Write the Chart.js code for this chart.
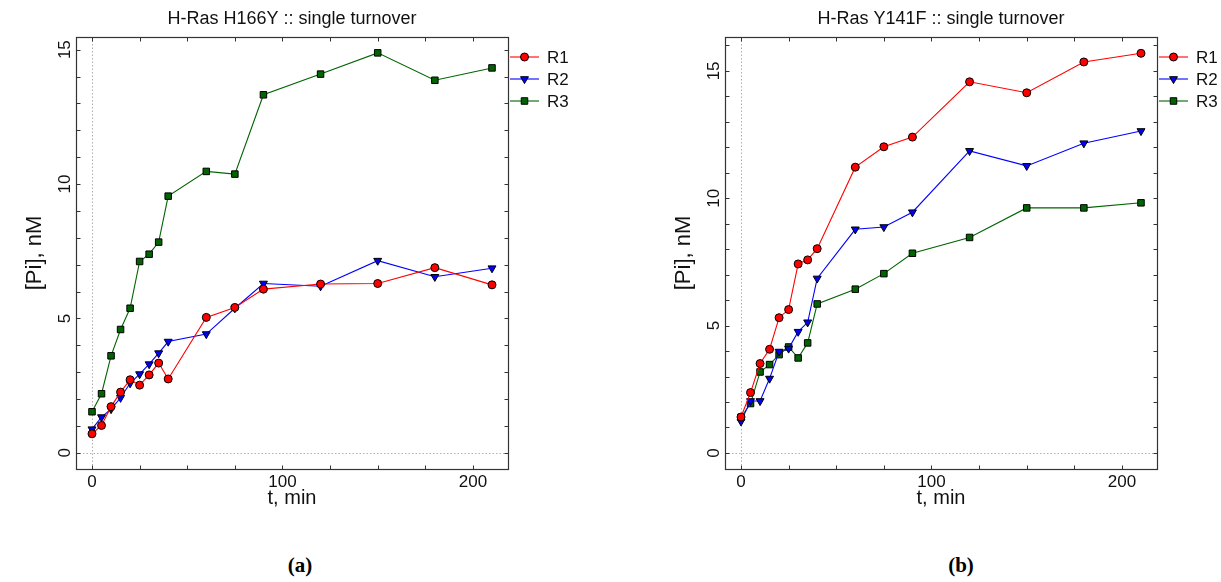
<!DOCTYPE html>
<html><head><meta charset="utf-8">
<script src="https://cdn.jsdelivr.net/npm/chart.js"></script>
<style>
html,body{margin:0;padding:0;background:#fff}
body{width:1221px;height:582px;overflow:hidden;position:relative}
canvas{position:absolute;top:0}
#c1{left:0}
#c2{left:610px}
.cap{position:absolute;top:553px;font:bold 21px "Liberation Serif","Times New Roman",serif;color:#000;transform:translateX(-50%);white-space:nowrap}
</style></head><body>
<canvas id="c1" width="610" height="540"></canvas>
<canvas id="c2" width="611" height="540"></canvas>
<div class="cap" style="left:300px">(a)</div>
<div class="cap" style="left:961px">(b)</div>
<script>
// ---- data ----
const times = [0,5,10,15,20,25,30,35,40,60,75,90,120,150,180,210];
const seriesNames = ['R1','R2','R3'];
const h166y_R1 = [0.71,1.02,1.72,2.26,2.72,2.52,2.90,3.34,2.75,5.04,5.41,6.09,6.28,6.30,6.89,6.25];
const h166y_R2 = [0.88,1.33,1.63,2.05,2.59,2.93,3.30,3.71,4.14,4.42,5.38,6.30,6.20,7.15,6.55,6.87];
const h166y_R3 = [1.53,2.20,3.61,4.59,5.38,7.12,7.39,7.84,9.55,10.47,10.37,13.32,14.09,14.88,13.86,14.32];
const y141f_R1 = [1.41,2.37,3.51,4.07,5.31,5.63,7.42,7.58,8.02,11.22,12.02,12.40,14.57,14.14,15.35,15.69];
const y141f_R2 = [1.24,2.04,2.04,2.92,3.98,4.10,4.76,5.13,6.85,8.78,8.87,9.45,11.86,11.27,12.16,12.64];
const y141f_R3 = [1.40,1.94,3.18,3.47,3.86,4.16,3.73,4.32,5.85,6.43,7.04,7.84,8.46,9.62,9.62,9.82];
const xTickLabels = [0,100,200];
const yTickLabels = [0,5,10,15];
const titleLeft = 'H-Ras H166Y :: single turnover';
const titleRight = 'H-Ras Y141F :: single turnover';
const xTitle = 't, min';
const yTitle = '[Pi], nM';

// ---- styles ----
const seriesStyle = [
  {line:'#ff0000', fill:'#ff0000', point:'circle', radius:4, rotation:0},
  {line:'#0000ff', fill:'#0000ff', point:'triangle', radius:4.6, rotation:180},
  {line:'#006400', fill:'#006400', point:'rect', radius:4.6, rotation:0}
];
const FONT = '"Liberation Sans", Arial, Helvetica, sans-serif';
const AXIS = '#333333';

function buildDatasets(valuesList){
  return valuesList.map((vals,i)=>({
    label: seriesNames[i],
    data: times.map((t,k)=>({x:t, y:vals[k]})),
    borderColor: seriesStyle[i].line,
    borderWidth: 1.1,
    backgroundColor: seriesStyle[i].fill,
    pointBackgroundColor: seriesStyle[i].fill,
    pointBorderColor: '#000',
    pointBorderWidth: 1,
    pointStyle: seriesStyle[i].point,
    pointRadius: seriesStyle[i].radius,
    pointRotation: seriesStyle[i].rotation,
    pointHoverRadius: seriesStyle[i].radius,
    tension: 0,
    fill: false
  }));
}

const decor = {
  id: 'decor',
  beforeDatasetsDraw(chart){
    const {ctx, chartArea:a, scales:{x, y}} = chart;
    ctx.save();
    ctx.strokeStyle = '#b0b0b0';
    ctx.lineWidth = 1;
    ctx.setLineDash([1.5,2]);
    const x0 = Math.round(x.getPixelForValue(0)) + 0.5;
    const y0 = Math.round(y.getPixelForValue(0)) + 0.5;
    ctx.beginPath();
    ctx.moveTo(x0, a.top); ctx.lineTo(x0, a.bottom);
    ctx.moveTo(a.left, y0); ctx.lineTo(a.right, y0);
    ctx.stroke();
    ctx.restore();
  },
  afterDraw(chart, args, opts){
    const {ctx, chartArea:a, scales:{x, y}} = chart;
    ctx.save();
    // box
    ctx.strokeStyle = AXIS;
    ctx.lineWidth = 1.2;
    const L = Math.round(a.left)+0.5, R = Math.round(a.right)+0.5, T = Math.round(a.top)+0.5, B = Math.round(a.bottom)+0.5;
    ctx.strokeRect(L, T, R-L, B-T);
    // inward ticks
    ctx.lineWidth = 1;
    const tl = 4;
    ctx.beginPath();
    x.ticks.forEach(t=>{
      const px = Math.round(x.getPixelForValue(t.value))+0.5;
      ctx.moveTo(px, B); ctx.lineTo(px, B-tl);
      ctx.moveTo(px, T); ctx.lineTo(px, T+tl);
    });
    y.ticks.forEach(t=>{
      if (Math.abs(t.value - Math.round(t.value))>1e-6) return;
      const py = Math.round(y.getPixelForValue(t.value))+0.5;
      ctx.moveTo(L, py); ctx.lineTo(L+tl, py);
      ctx.moveTo(R, py); ctx.lineTo(R-tl, py);
    });
    ctx.stroke();
    // title
    ctx.fillStyle = '#111';
    ctx.font = '18px ' + FONT;
    ctx.textAlign = 'center';
    ctx.textBaseline = 'middle';
    ctx.fillText(opts.title, (a.left+a.right)/2, 19);
    // legend
    ctx.font = '17px ' + FONT;
    ctx.textAlign = 'left';
    chart.data.datasets.forEach((ds,i)=>{
      const ly = a.top + 20 + i*22;
      const lx = a.right + 2;
      ctx.strokeStyle = ds.borderColor;
      ctx.lineWidth = 1.1;
      ctx.beginPath(); ctx.moveTo(lx, ly); ctx.lineTo(lx+29, ly); ctx.stroke();
      ctx.fillStyle = ds.pointBackgroundColor;
      ctx.strokeStyle = '#000';
      ctx.lineWidth = 1;
      Chart.helpers.drawPoint(ctx, {pointStyle: ds.pointStyle, rotation: ds.pointRotation, radius: ds.pointRadius, borderWidth: 1}, lx+14.5, ly);
      ctx.fillStyle = '#111';
      ctx.fillText(ds.label, lx+37, ly+1);
    });
    ctx.restore();
  }
};

function makeChart(id, title, valuesList, yMin, yMax, padLeft, padRight){
  return new Chart(document.getElementById(id), {
    type: 'line',
    data: { datasets: buildDatasets(valuesList) },
    options: {
      responsive: false,
      animation: false,
      devicePixelRatio: 1,
      layout: { padding: {left: padLeft, right: padRight, top: 37, bottom: 0} },
      plugins: { legend: {display:false}, tooltip: {enabled:false}, decor: {title: title} },
      scales: {
        x: {
          type: 'linear', min: -8.4, max: 218.4,
          grid: {display:false}, border: {display:false},
          ticks: {
            stepSize: 25, includeBounds: false, autoSkip: false, maxRotation: 0, minRotation: 0,
            padding: -5, color: '#111', font: {family: FONT, size: 17},
            callback: v => xTickLabels.includes(v) ? String(v) : ''
          },
          title: {display:true, text: xTitle, color:'#111', font:{family: FONT, size: 20}, padding:{top:0, bottom:30}},
          afterFit(s){ s.height = 71; }
        },
        y: {
          type: 'linear', min: yMin, max: yMax,
          grid: {display:false}, border: {display:false},
          ticks: {
            stepSize: 1, includeBounds: false, autoSkip: false, minRotation: 90, maxRotation: 90,
            crossAlign: 'center', padding: -7, color: '#111', font: {family: FONT, size: 17},
            callback: v => yTickLabels.includes(v) ? String(v) : ''
          },
          title: {display:true, text: yTitle, color:'#111', font:{family: FONT, size: 22}, padding:{top:22, bottom:0}},
          afterFit(s){ s.width = 76; }
        }
      }
    },
    plugins: [decor]
  });
}

makeChart('c1', titleLeft, [h166y_R1, h166y_R2, h166y_R3], -0.6, 15.47, 0, 102);
makeChart('c2', titleRight, [y141f_R1, y141f_R2, y141f_R3], -0.63, 16.33, 39, 64);
</script>
</body></html>
